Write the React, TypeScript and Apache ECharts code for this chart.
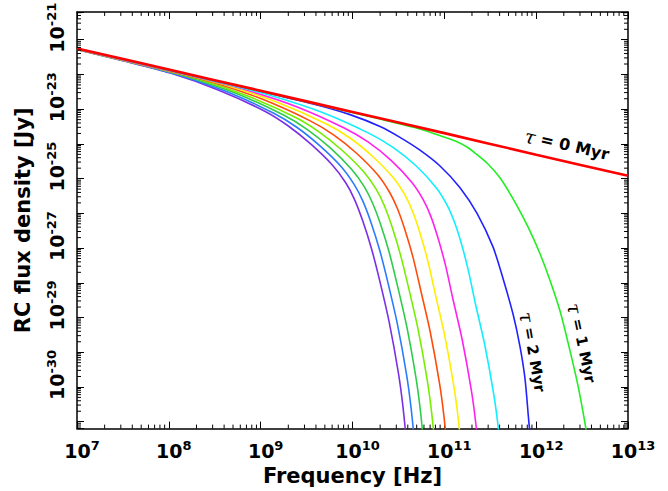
import React, { useEffect, useRef } from 'react';
import * as echarts from 'echarts';

// Axis ranges in decades (log10 of frequency in Hz / flux density in Jy)
const X_MIN = 7;
const X_MAX = 13;
const Y_MIN = -32.2;
const Y_MAX = -20.2;

// Tick labels
const xTickPositions = [7, 8, 9, 10, 11, 12, 13];
const xTickExponents = ['7', '8', '9', '10', '11', '12', '13'];
const yLabelPositions = [-21, -23, -25, -27, -29, -31];
const yLabelExponents = ['-21', '-23', '-25', '-27', '-29', '-30'];

// Series: [log10 frequency, log10 flux density]
const age0 = [[7, -21.25], [8, -21.86], [9, -22.47], [10, -23.08], [11, -23.69], [12, -24.31], [13, -24.92]];
const age1 = [[7, -21.252], [9.428, -22.745], [10.3, -23.285], [10.735, -23.569], [11.007, -23.811], [11.127, -23.925], [11.247, -24.09], [11.356, -24.309], [11.465, -24.55], [11.606, -24.977], [11.715, -25.432], [11.824, -25.944], [11.933, -26.512], [12.042, -27.166], [12.151, -27.934], [12.26, -28.815], [12.347, -29.725], [12.445, -30.834], [12.51, -31.716], [12.565, -32.569]];
const age2 = [[7, -21.252], [8.339, -22.077], [9.211, -22.617], [9.646, -22.901], [9.973, -23.157], [10.3, -23.498], [10.517, -23.811], [10.735, -24.181], [10.953, -24.636], [11.171, -25.261], [11.356, -26.0], [11.53, -26.967], [11.639, -27.877], [11.748, -28.901], [11.824, -29.839], [11.879, -30.777], [11.922, -32.057], [11.944, -32.569]];
const age3 = [[7, -21.26], [8.569, -22.24], [9.1, -22.6], [9.645, -23.07], [10.176, -23.69], [10.441, -24.1], [10.691, -24.63], [10.911, -25.26], [11.03, -25.76], [11.107, -26.23], [11.185, -26.87], [11.262, -27.65], [11.339, -28.61], [11.439, -29.77], [11.539, -31.23], [11.589, -32.21], [11.639, -33.55]];
const age4 = [[7, -21.27], [8.319, -22.09], [8.845, -22.45], [9.384, -22.92], [9.91, -23.54], [10.173, -23.95], [10.423, -24.48], [10.647, -25.11], [10.771, -25.61], [10.852, -26.08], [10.932, -26.72], [11.013, -27.5], [11.093, -28.46], [11.193, -29.62], [11.293, -31.08], [11.343, -32.06], [11.393, -33.4]];
const age5 = [[7, -21.27], [8.127, -21.97], [8.651, -22.33], [9.187, -22.81], [9.711, -23.42], [9.973, -23.83], [10.223, -24.37], [10.449, -24.99], [10.575, -25.49], [10.657, -25.96], [10.739, -26.6], [10.821, -27.38], [10.903, -28.34], [11.003, -29.51], [11.103, -30.97], [11.153, -31.95], [11.203, -33.28]];
const age6 = [[7, -21.27], [7.966, -21.88], [8.485, -22.23], [9.015, -22.71], [9.534, -23.33], [9.794, -23.74], [10.044, -24.27], [10.274, -24.89], [10.405, -25.4], [10.49, -25.87], [10.575, -26.51], [10.661, -27.29], [10.746, -28.25], [10.846, -29.41], [10.946, -30.87], [10.996, -31.85], [11.046, -33.18]];
const age7 = [[7, -21.28], [7.828, -21.8], [8.343, -22.15], [8.866, -22.63], [9.381, -23.24], [9.639, -23.66], [9.889, -24.19], [10.124, -24.81], [10.259, -25.31], [10.347, -25.78], [10.436, -26.43], [10.524, -27.21], [10.613, -28.17], [10.713, -29.33], [10.813, -30.79], [10.863, -31.77], [10.913, -33.1]];
const age8 = [[7, -21.28], [7.703, -21.72], [8.216, -22.08], [8.736, -22.55], [9.249, -23.17], [9.505, -23.58], [9.755, -24.11], [9.992, -24.74], [10.129, -25.24], [10.219, -25.71], [10.31, -26.35], [10.4, -27.13], [10.49, -28.09], [10.59, -29.25], [10.69, -30.72], [10.74, -31.7], [10.79, -33.03]];
const age9 = [[7, -21.28], [7.6, -21.66], [8.111, -22.02], [8.627, -22.49], [9.138, -23.11], [9.393, -23.52], [9.643, -24.05], [9.882, -24.67], [10.021, -25.18], [10.113, -25.65], [10.205, -26.29], [10.297, -27.07], [10.389, -28.03], [10.489, -29.19], [10.589, -30.65], [10.639, -31.63], [10.689, -32.96]];
const age10 = [[7, -21.28], [7.509, -21.61], [8.018, -21.96], [8.531, -22.44], [9.04, -23.05], [9.294, -23.47], [9.544, -24.0], [9.785, -24.62], [9.926, -25.12], [10.02, -25.59], [10.113, -26.23], [10.207, -27.02], [10.3, -27.98], [10.4, -29.14], [10.5, -30.6], [10.55, -31.58], [10.6, -32.91]];

const curveNames = ['10 Myr', '9 Myr', '8 Myr', '7 Myr', '6 Myr', '5 Myr', '4 Myr', '3 Myr', '2 Myr', '1 Myr', '0 Myr'];
const curveData = [age10, age9, age8, age7, age6, age5, age4, age3, age2, age1, age0];
const curveColors = ['#7b2fe6', '#2b7bff', '#2ecc4a', '#77ee00', '#ff4c0a', '#ffee00', '#ff22ee', '#11eeff', '#2222ff', '#22ee22', '#ff0000'];

const annotationTexts = ['0 Myr', '2 Myr', '1 Myr'];

const FONT = 'DejaVu Sans';

function buildMinorTicks() {
  const out: number[][] = [];
  for (let n = Math.floor(X_MIN); n < X_MAX; n++) {
    for (let k = 2; k <= 9; k++) {
      const v = n + Math.log10(k);
      if (v > X_MIN && v < X_MAX) out.push([v, Y_MIN, 0]);
    }
  }
  for (let n = Math.floor(Y_MIN); n < Y_MAX; n++) {
    for (let k = 2; k <= 9; k++) {
      const v = n + Math.log10(k);
      if (v > Y_MIN && v < Y_MAX) out.push([X_MIN, v, 1]);
    }
  }
  return out;
}

export default function App() {
  const ref = useRef<HTMLDivElement>(null);
  useEffect(() => {
    if (!ref.current) return;
    const chart = echarts.init(ref.current, undefined, { renderer: 'svg' });
    const rich = {
      b: { fontSize: 19, fontWeight: 'bold', fontFamily: FONT, color: '#000', lineHeight: 24 },
      s: { fontSize: 13, fontWeight: 'bold', fontFamily: FONT, color: '#000', verticalAlign: 'top', lineHeight: 14 },
    };
    const axisLine = { show: true, lineStyle: { color: '#000', width: 1.5 } };
    const majorTick = { show: true, inside: true, length: 7, lineStyle: { color: '#000', width: 1 } };
    const minorStyle = { stroke: '#000', lineWidth: 1 };
    const series: any[] = curveData.map((d, i) => ({
      type: 'line',
      name: curveNames[i],
      data: d,
      showSymbol: false,
      symbol: 'none',
      clip: true,
      smooth: 0.25,
      lineStyle: { color: curveColors[i], width: i === curveData.length - 1 ? 2.6 : 1.6 },
      z: 2 + i,
    }));
    series.push({
      type: 'custom',
      silent: true,
      clip: false,
      z: 20,
      data: buildMinorTicks(),
      encode: { x: 0, y: 1 },
      renderItem: (params: any, api: any) => {
        const cs = params.coordSys;
        const kind = api.value(2);
        if (kind === 0) {
          const px = api.coord([api.value(0), Y_MIN])[0];
          const b = cs.y + cs.height;
          return {
            type: 'group',
            children: [
              { type: 'line', shape: { x1: px, y1: b, x2: px, y2: b - 4 }, style: minorStyle },
              { type: 'line', shape: { x1: px, y1: cs.y, x2: px, y2: cs.y + 4 }, style: minorStyle },
            ],
          };
        }
        const py = api.coord([X_MIN, api.value(1)])[1];
        const r = cs.x + cs.width;
        return {
          type: 'group',
          children: [
            { type: 'line', shape: { x1: cs.x, y1: py, x2: cs.x + 4, y2: py }, style: minorStyle },
            { type: 'line', shape: { x1: r, y1: py, x2: r - 4, y2: py }, style: minorStyle },
          ],
        };
      },
    });
    const tau = { fontSize: 19, fontStyle: 'italic', fontFamily: 'DejaVu Serif', color: '#000' };
    const ann = { fontSize: 16, fontWeight: 'bold', fontFamily: FONT, color: '#000' };
    const annSmall = { fontSize: 15, fontWeight: 'bold', fontFamily: FONT, color: '#000' };
    chart.setOption({
      animation: false,
      backgroundColor: '#fff',
      grid: { left: 77, right: 40, top: 10, bottom: 59, containLabel: false },
      xAxis: [
        {
          type: 'value', min: X_MIN, max: X_MAX, interval: 1, position: 'bottom',
          axisLine, axisTick: majorTick, splitLine: { show: false },
          axisLabel: {
            margin: 10,
            padding: [0, 0, 0, 10],
            formatter: (v: number) => {
              const i = xTickPositions.indexOf(Math.round(v * 1000) / 1000);
              return i >= 0 ? `{b|10}{s|${xTickExponents[i]}}` : '';
            },
            rich,
          },
          name: 'Frequency [Hz]', nameLocation: 'middle', nameGap: 33,
          nameTextStyle: { fontSize: 21, fontWeight: 'bold', fontFamily: FONT, color: '#000' },
        },
        {
          type: 'value', min: X_MIN, max: X_MAX, interval: 1, position: 'top',
          axisLine, axisTick: majorTick, splitLine: { show: false }, axisLabel: { show: false },
        },
      ],
      yAxis: [
        {
          type: 'value', min: Y_MIN, max: Y_MAX, splitNumber: 12, position: 'left',
          axisLine, axisTick: majorTick, splitLine: { show: false },
          axisLabel: {
            rotate: 90, margin: 8,
            padding: [0, 0, 0, 24],
            formatter: (v: number) => {
              const i = yLabelPositions.indexOf(Math.round(v * 1000) / 1000);
              return i >= 0 ? `{b|10}{s|${yLabelExponents[i]}}` : '';
            },
            rich,
          },
          name: 'RC flux density [Jy]', nameLocation: 'middle', nameGap: 44, nameRotate: 90,
          nameTextStyle: { fontSize: 21, fontWeight: 'bold', fontFamily: FONT, color: '#000' },
        },
        {
          type: 'value', min: Y_MIN, max: Y_MAX, splitNumber: 12, position: 'right',
          axisLine, axisTick: majorTick, splitLine: { show: false }, axisLabel: { show: false },
        },
      ],
      series,
      graphic: [
        { type: 'text', x: 567, y: 145, rotation: (-13 * Math.PI) / 180, style: { text: `{t|τ}{a| = ${annotationTexts[0]}}`, rich: { t: tau, a: ann }, align: 'center', verticalAlign: 'middle' } },
        { type: 'text', x: 533, y: 352, rotation: (-80 * Math.PI) / 180, style: { text: `{t|τ}{a| = ${annotationTexts[1]}}`, rich: { t: tau, a: annSmall }, align: 'center', verticalAlign: 'middle' } },
        { type: 'text', x: 582, y: 343, rotation: (-78 * Math.PI) / 180, style: { text: `{t|τ}{a| = ${annotationTexts[2]}}`, rich: { t: tau, a: annSmall }, align: 'center', verticalAlign: 'middle' } },
      ],
    });
    return () => chart.dispose();
  }, []);
  return <div ref={ref} style={{ width: 668, height: 491, position: 'absolute', left: 0, top: 0 }} />;
}
